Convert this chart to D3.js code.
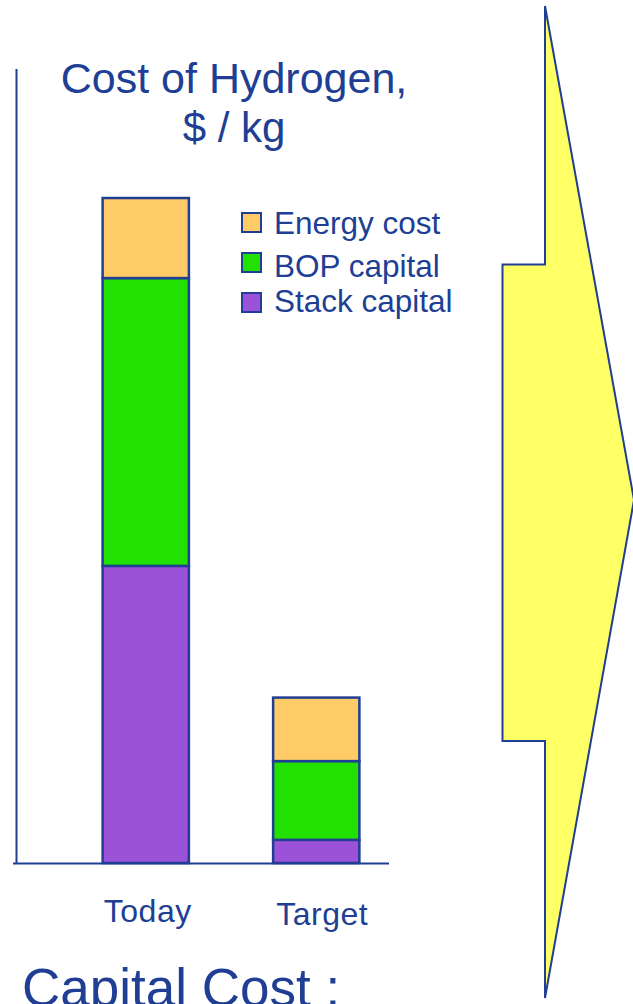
<!DOCTYPE html>
<html>
<head>
<meta charset="utf-8">
<script src="https://cdn.jsdelivr.net/npm/d3@7"></script>
<style>
html,body{margin:0;padding:0;background:#fff;overflow:hidden;}
svg{display:block;}
text{font-family:"Liberation Sans",Arial,sans-serif;}
</style>
</head>
<body>
<svg id="chart" width="633" height="1004"></svg>
<script>
// Data (units: $/kg)
const categories = ["Today", "Target"];
const seriesNames = ["Stack capital", "BOP capital", "Energy cost"];
const stackCapital = [4.49, 0.35];
const bopCapital = [4.35, 1.19];
const energyCost = [1.21, 0.96];
const legendLabels = ["Energy cost", "BOP capital", "Stack capital"];
const titleLines = ["Cost of Hydrogen,", "$ / kg"];
const footerText = "Capital Cost :";

const colors = {"Stack capital":"#9b52d8","BOP capital":"#22e000","Energy cost":"#ffcb66"};
const ink = "#203f94";

const svg = d3.select("#chart");

// Arrow (decorative)
svg.append("path")
  .attr("d","M545,6 L634,500 L545,998 L545,741 L502.5,741 L502.5,264.5 L545,264.5 Z")
  .attr("fill","#ffff66").attr("stroke",ink).attr("stroke-width",2).attr("stroke-linejoin","miter");

const table = categories.map((c,i)=>({cat:c,"Stack capital":stackCapital[i],"BOP capital":bopCapital[i],"Energy cost":energyCost[i]}));
const stacked = d3.stack().keys(seriesNames)(table);

const x = d3.scaleBand().domain(categories).range([60,402]).paddingInner(0.494).paddingOuter(0.25);
const y = d3.scaleLinear().domain([0,12]).range([863,69]);

// axes lines
svg.append("line").attr("x1",16.5).attr("x2",16.5).attr("y1",y(12)).attr("y2",y(0)+1)
  .attr("stroke",ink).attr("stroke-width",2);

svg.append("g").selectAll("g").data(stacked).join("g")
  .attr("fill",d=>colors[d.key])
  .selectAll("rect").data(d=>d).join("rect")
  .attr("x",d=>x(d.data.cat))
  .attr("width",x.bandwidth())
  .attr("y",d=>y(d[1]))
  .attr("height",d=>y(d[0])-y(d[1]))
  .attr("stroke",ink).attr("stroke-width",2.5);

svg.append("line").attr("x1",13).attr("x2",389).attr("y1",y(0)+0.5).attr("y2",y(0)+0.5)
  .attr("stroke",ink).attr("stroke-width",2);

// category labels
const labelY = [922, 925];
const labelDx = [2, 6];
svg.append("g").selectAll("text").data(categories).join("text")
  .attr("x",(d,i)=>x(d)+x.bandwidth()/2+labelDx[i])
  .attr("y",(d,i)=>labelY[i])
  .attr("text-anchor","middle").attr("font-size",32).attr("letter-spacing",0.5).attr("fill",ink)
  .text(d=>d);

// title
svg.append("text").attr("x",234).attr("y",93).attr("text-anchor","middle")
  .attr("font-size",43).attr("fill",ink).text(titleLines[0]);
svg.append("text").attr("x",234).attr("y",142).attr("text-anchor","middle")
  .attr("font-size",42).attr("fill",ink).text(titleLines[1]);

// legend
const legendRows = [{sq:213,base:234},{sq:253,base:277},{sq:293,base:312}];
const lg = svg.append("g");
legendLabels.forEach((name,i)=>{
  lg.append("rect").attr("x",242).attr("y",legendRows[i].sq).attr("width",19).attr("height",19)
    .attr("fill",colors[name]).attr("stroke",ink).attr("stroke-width",2);
  lg.append("text").attr("x",274).attr("y",legendRows[i].base).attr("font-size",31.5)
    .attr("fill",ink).text(name);
});

// footer
svg.append("text").attr("x",22).attr("y",1006).attr("font-size",53).attr("fill",ink).text(footerText);
</script>
</body>
</html>
